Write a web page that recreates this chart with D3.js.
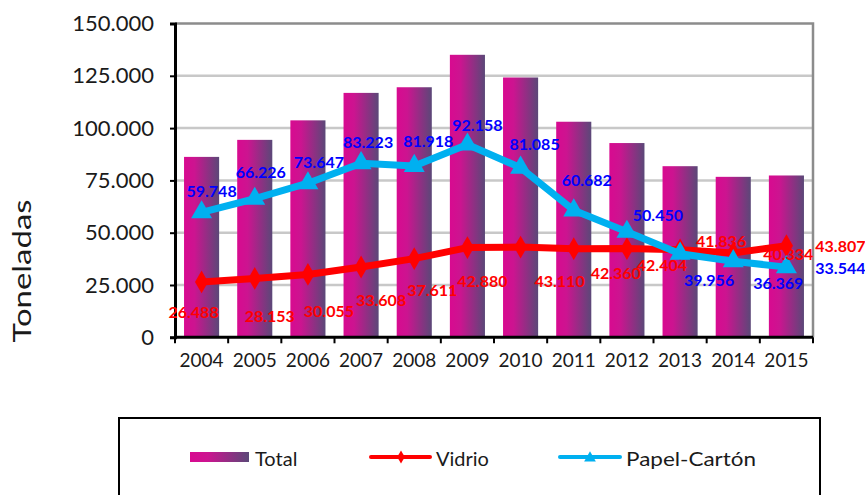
<!DOCTYPE html>
<html>
<head>
<meta charset="utf-8">
<script src="https://cdn.jsdelivr.net/npm/d3@7"></script>
<style>
  body { margin: 0; background: #fff; }
  svg { display: block; font-family: Lato, "Noto Sans", sans-serif; }
</style>
</head>
<body>
<svg id="chart" width="865" height="495"></svg>
<script>
// data
var years = ["2004","2005","2006","2007","2008","2009","2010","2011","2012","2013","2014","2015"];
var total = [86236, 94379, 103702, 116831, 119529, 135038, 124195, 103042, 92854, 81792, 76703, 77351];
var vidrio = [26488, 28153, 30055, 33608, 37611, 42880, 43110, 42360, 42404, 41836, 40334, 43807];
var papel = [59748, 66226, 73647, 83223, 81918, 92158, 81085, 60682, 50450, 39956, 36369, 33544];
var yTicks = [0, 25000, 50000, 75000, 100000, 125000, 150000];

// label nudges (pixels from the point), as placed in the original
var papelDx = [10, 6, 11, 7, 14, 10, 14, 13, 31, 29, 45, 54];
var papelDy = [-22, -27, -22, -22, -25, -20, -24, -31, -17, 26, 21, 0];
var vidrioDx = [-8, 15, 21, 20, 18, 15, 39, 42, 35, 41, 55, 54];
var vidrioDy = [30, 37, 36, 33, 31, 33, 33, 24, 16, -9, 1, 0];

var svg = d3.select("#chart");
var plotL = 175, plotR = 813, plotT = 23.5, plotB = 337.3;

var fmt = d3.formatLocale({decimal: ",", thousands: ".", grouping: [3], currency: ["", ""]}).format(",");

var x = d3.scaleBand().domain(years).range([plotL, plotR]).paddingInner(0.34).paddingOuter(0.17);
var y = d3.scaleLinear().domain([0, 150000]).range([plotB, plotT]);
var cx = function(i) { return x(years[i]) + x.bandwidth() / 2; };

var defs = svg.append("defs");
var grad = defs.append("linearGradient").attr("id", "barGrad")
  .attr("x1", 0).attr("x2", 1).attr("y1", 0).attr("y2", 0);
grad.append("stop").attr("offset", 0).attr("stop-color", "#d80a90");
grad.append("stop").attr("offset", 0.3).attr("stop-color", "#cc1490");
grad.append("stop").attr("offset", 1).attr("stop-color", "#5b4878");

// gridlines
svg.append("g").selectAll("line")
  .data(yTicks.filter(function(d) { return d > 0 && d < 150000; }))
  .enter().append("line")
  .attr("x1", plotL).attr("x2", plotR)
  .attr("y1", function(d) { return y(d); }).attr("y2", function(d) { return y(d); })
  .attr("stroke", "#c8c8c8").attr("stroke-width", 2.5);

// plot frame top + right
svg.append("path")
  .attr("d", "M" + plotL + "," + y(150000) + "H" + plotR + "V" + plotB)
  .attr("fill", "none").attr("stroke", "#8c8c8c").attr("stroke-width", 2.5);

// bars
svg.append("g").selectAll("rect")
  .data(total)
  .enter().append("rect")
  .attr("x", function(d, i) { return x(years[i]); })
  .attr("width", x.bandwidth())
  .attr("y", function(d) { return y(d); })
  .attr("height", function(d) { return plotB - y(d); })
  .attr("fill", "url(#barGrad)");

// y axis
var yAxis = svg.append("g")
  .attr("transform", "translate(" + plotL + ",0)")
  .call(d3.axisLeft(y).tickValues(yTicks).tickSize(5).tickPadding(16).tickFormat(fmt));
yAxis.select(".domain").attr("stroke", "#000").attr("stroke-width", 3);
yAxis.selectAll(".tick line").attr("stroke", "#000").attr("stroke-width", 2);
yAxis.selectAll("text").attr("font-size", 22).attr("fill", "#1a1a1a")
  .attr("font-family", "Lato, sans-serif");

// x axis: labels centered, ticks on band edges
var xAxis = svg.append("g")
  .attr("transform", "translate(0," + plotB + ")")
  .call(d3.axisBottom(x).tickSize(0).tickPadding(16));
xAxis.select(".domain").attr("stroke", "#000").attr("stroke-width", 3)
  .attr("d", "M" + plotL + ",0H" + plotR);
xAxis.selectAll("text").attr("font-size", 19).attr("fill", "#1a1a1a")
  .attr("font-family", "Lato, sans-serif");
var edges = years.map(function(d) { return x(d) - x.step() * x.paddingInner() / 2; });
edges.push(plotR);
xAxis.selectAll(".edge").data(edges).enter().append("line")
  .attr("class", "edge")
  .attr("x1", function(d) { return d; }).attr("x2", function(d) { return d; })
  .attr("y1", 0).attr("y2", 6)
  .attr("stroke", "#000").attr("stroke-width", 2);

// y title
svg.append("text")
  .attr("transform", "translate(31,271) rotate(-90)")
  .attr("text-anchor", "middle")
  .attr("font-size", 25)
  .attr("textLength", 143).attr("lengthAdjust", "spacingAndGlyphs")
  .attr("fill", "#1a1a1a")
  .text("Toneladas");

// lines
var line = d3.line().x(function(d, i) { return cx(i); }).y(function(d) { return y(d); });

svg.append("path").datum(vidrio)
  .attr("d", line).attr("fill", "none")
  .attr("stroke", "#ff0000").attr("stroke-width", 7).attr("stroke-linejoin", "round");
svg.append("g").selectAll("path")
  .data(vidrio).enter().append("path")
  .attr("d", d3.symbol().type(d3.symbolDiamond).size(150))
  .attr("transform", function(d, i) { return "translate(" + cx(i) + "," + y(d) + ")"; })
  .attr("fill", "#ff0000");

svg.append("path").datum(papel)
  .attr("d", line).attr("fill", "none")
  .attr("stroke", "#00b0f0").attr("stroke-width", 7).attr("stroke-linejoin", "round");
svg.append("g").selectAll("path")
  .data(papel).enter().append("path")
  .attr("d", d3.symbol().type(d3.symbolTriangle).size(190))
  .attr("transform", function(d, i) { return "translate(" + cx(i) + "," + y(d) + ")"; })
  .attr("fill", "#00b0f0");

// data labels
svg.append("g").selectAll("text")
  .data(vidrio).enter().append("text")
  .attr("x", function(d, i) { return cx(i) + vidrioDx[i]; })
  .attr("y", function(d, i) { return y(d) + vidrioDy[i]; })
  .attr("text-anchor", "middle").attr("dominant-baseline", "central")
  .attr("font-size", 16).attr("font-weight", "bold").attr("fill", "#ff0000")
  .text(function(d) { return fmt(d); });

svg.append("g").selectAll("text")
  .data(papel).enter().append("text")
  .attr("x", function(d, i) { return cx(i) + papelDx[i]; })
  .attr("y", function(d, i) { return y(d) + papelDy[i]; })
  .attr("text-anchor", "middle").attr("dominant-baseline", "central")
  .attr("font-size", 16).attr("font-weight", "bold").attr("fill", "#0000ff")
  .text(function(d) { return fmt(d); });

// legend
var lg = svg.append("g");
lg.append("rect").attr("x", 119).attr("y", 418).attr("width", 701).attr("height", 100)
  .attr("fill", "#fff").attr("stroke", "#000").attr("stroke-width", 2);

lg.append("rect").attr("x", 190).attr("y", 452).attr("width", 59).attr("height", 10)
  .attr("fill", "url(#barGrad)");
lg.append("text").attr("x", 255).attr("y", 458).attr("dominant-baseline", "central")
  .attr("font-size", 20).attr("fill", "#1a1a1a").text("Total");

lg.append("line").attr("x1", 371).attr("x2", 430).attr("y1", 457).attr("y2", 457)
  .attr("stroke", "#ff0000").attr("stroke-width", 4).attr("stroke-linecap", "round");
lg.append("path").attr("d", d3.symbol().type(d3.symbolDiamond).size(50))
  .attr("transform", "translate(401,457)").attr("fill", "#ff0000");
lg.append("text").attr("x", 436).attr("y", 458).attr("dominant-baseline", "central")
  .attr("font-size", 20).attr("fill", "#1a1a1a").text("Vidrio");

lg.append("line").attr("x1", 560).attr("x2", 620).attr("y1", 457).attr("y2", 457)
  .attr("stroke", "#00b0f0").attr("stroke-width", 4).attr("stroke-linecap", "round");
lg.append("path").attr("d", d3.symbol().type(d3.symbolTriangle).size(60))
  .attr("transform", "translate(590,458)").attr("fill", "#00b0f0");
lg.append("text").attr("x", 626).attr("y", 458).attr("dominant-baseline", "central")
  .attr("font-size", 20).attr("textLength", 130).attr("lengthAdjust", "spacingAndGlyphs")
  .attr("fill", "#1a1a1a").text("Papel-Cartón");
</script>
</body>
</html>
